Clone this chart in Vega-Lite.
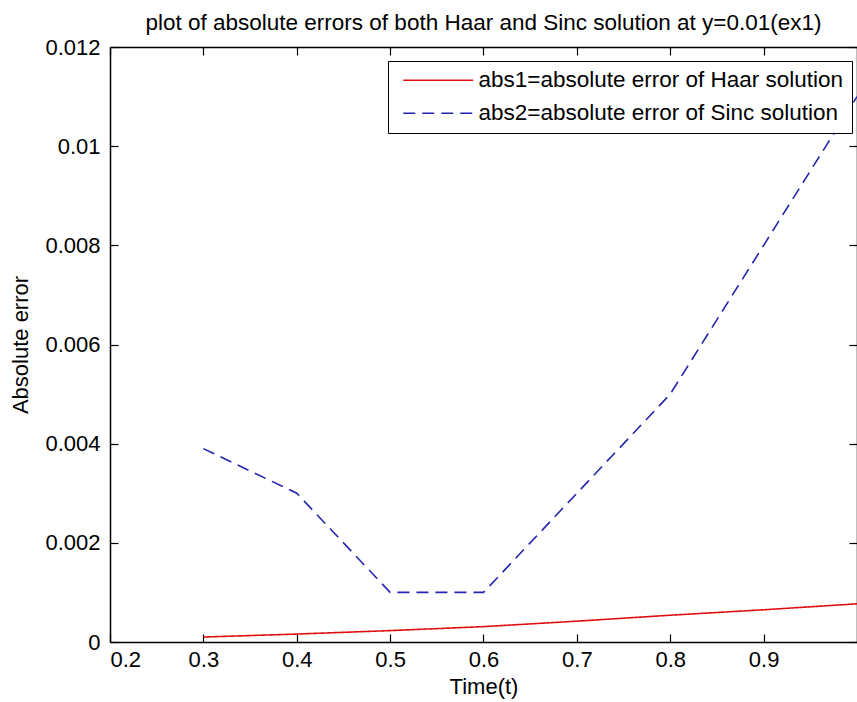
{
  "$schema": "https://vega.github.io/schema/vega-lite/v6.json",
  "width": 747,
  "height": 595,
  "autosize": {"type": "none"},
  "padding": {"left": 110, "top": 47, "right": 0, "bottom": 60},
  "background": "white",
  "config": {
    "font": "Liberation Sans",
    "view": {"stroke": null},
    "axis": {
      "grid": false,
      "domainColor": "black",
      "tickColor": "black",
      "labelColor": "black",
      "titleColor": "black",
      "labelFontSize": 22,
      "titleFontSize": 22,
      "titleFontWeight": "normal",
      "labelFont": "Liberation Sans",
      "titleFont": "Liberation Sans",
      "tickSize": -8,
      "domainWidth": 1.5,
      "tickWidth": 1.2
    },
    "title": {"fontSize": 22.5, "fontWeight": "normal", "color": "black", "font": "Liberation Sans"}
  },
  "title": {"text": "plot of absolute errors of both Haar and Sinc solution at y=0.01(ex1)", "offset": 2},
  "datasets": {
    "errs": [
      {"t": 0.3, "err": 0.0001, "series": "abs1=absolute error of Haar solution"},
      {"t": 0.4, "err": 0.00016, "series": "abs1=absolute error of Haar solution"},
      {"t": 0.5, "err": 0.00023, "series": "abs1=absolute error of Haar solution"},
      {"t": 0.6, "err": 0.00031, "series": "abs1=absolute error of Haar solution"},
      {"t": 0.7, "err": 0.00042, "series": "abs1=absolute error of Haar solution"},
      {"t": 0.8, "err": 0.00054, "series": "abs1=absolute error of Haar solution"},
      {"t": 0.9, "err": 0.00065, "series": "abs1=absolute error of Haar solution"},
      {"t": 1.0, "err": 0.00077, "series": "abs1=absolute error of Haar solution"},
      {"t": 0.3, "err": 0.0039, "series": "abs2=absolute error of Sinc solution"},
      {"t": 0.4, "err": 0.003, "series": "abs2=absolute error of Sinc solution"},
      {"t": 0.5, "err": 0.001, "series": "abs2=absolute error of Sinc solution"},
      {"t": 0.6, "err": 0.001, "series": "abs2=absolute error of Sinc solution"},
      {"t": 0.7, "err": 0.003, "series": "abs2=absolute error of Sinc solution"},
      {"t": 0.8, "err": 0.005, "series": "abs2=absolute error of Sinc solution"},
      {"t": 0.9, "err": 0.008, "series": "abs2=absolute error of Sinc solution"},
      {"t": 1.0, "err": 0.011, "series": "abs2=absolute error of Sinc solution"}
    ]
  },
  "layer": [
    {
      "data": {"name": "errs"},
      "mark": {"type": "line", "strokeWidth": 1.6, "clip": true},
      "encoding": {
        "x": {
          "field": "t", "type": "quantitative",
          "scale": {"domain": [0.2, 1.0], "nice": false, "zero": false},
          "axis": {"values": [0.2, 0.3, 0.4, 0.5, 0.6, 0.7, 0.8, 0.9], "format": ".1f", "title": "Time(t)", "labelPadding": 15, "titlePadding": 6}
        },
        "y": {
          "field": "err", "type": "quantitative",
          "scale": {"domain": [0, 0.012], "nice": false},
          "axis": {"values": [0, 0.002, 0.004, 0.006, 0.008, 0.01, 0.012], "format": "~g", "title": "Absolute error", "labelPadding": 18, "titlePadding": 12}
        },
        "color": {
          "field": "series", "type": "nominal",
          "scale": {"domain": ["abs1=absolute error of Haar solution", "abs2=absolute error of Sinc solution"], "range": ["#e01010", "#2525b0"]},
          "legend": {
            "title": null, "orient": "none", "legendX": 278, "legendY": 14,
            "strokeColor": "black", "fillColor": "white", "padding": 8,
            "symbolType": "M-0.4,0H6.6", "symbolSize": 400, "symbolStrokeWidth": 1.5,
            "labelFontSize": 22.5, "labelColor": "black", "labelLimit": 0, "labelOffset": 60, "rowPadding": 10
          }
        },
        "strokeDash": {
          "field": "series", "type": "nominal",
          "scale": {"domain": ["abs1=absolute error of Haar solution", "abs2=absolute error of Sinc solution"], "range": [[1, 0], [12, 7]]},
          "legend": {
            "title": null, "orient": "none", "legendX": 278, "legendY": 14,
            "strokeColor": "black", "fillColor": "white", "padding": 8,
            "symbolType": "M-0.4,0H6.6", "symbolSize": 400, "symbolStrokeWidth": 1.5,
            "labelFontSize": 22.5, "labelColor": "black", "labelLimit": 0, "labelOffset": 60, "rowPadding": 10
          }
        }
      }
    },
    {
      "data": {"name": "errs"},
      "mark": {"type": "line", "opacity": 0},
      "encoding": {
        "x": {
          "field": "t", "type": "quantitative",
          "scale": {"domain": [0.2, 1.0], "nice": false, "zero": false},
          "axis": {"orient": "top", "values": [0.2, 0.3, 0.4, 0.5, 0.6, 0.7, 0.8, 0.9], "labels": false, "title": null}
        },
        "y": {
          "field": "err", "type": "quantitative",
          "scale": {"domain": [0, 0.012], "nice": false},
          "axis": {"orient": "right", "values": [0, 0.002, 0.004, 0.006, 0.008, 0.01, 0.012], "labels": false, "title": null}
        }
      }
    }
  ],
  "resolve": {"axis": {"x": "independent", "y": "independent"}}
}
